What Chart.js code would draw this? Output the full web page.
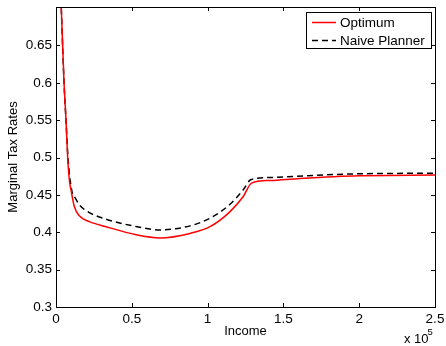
<!DOCTYPE html>
<html>
<head>
<meta charset="utf-8">
<script src="https://cdn.jsdelivr.net/npm/chart.js@4/dist/chart.umd.min.js"></script>
<style>
  html, body { margin: 0; padding: 0; background: #fff; }
  canvas { display: block; }
</style>
</head>
<body>
<canvas id="grafico" width="446" height="346"></canvas>
<script>
// dados
const incomeOptimum = [2800, 5300, 6600, 7700, 8800, 9900, 12100, 15400, 22000, 33000, 52800, 68600, 88400, 101600, 114800, 123500, 129000, 141200, 161000, 200000, 250000];
const rateOptimum   = [0.74, 0.60, 0.55, 0.50, 0.470, 0.4568, 0.4344, 0.422, 0.4143, 0.4075, 0.3968, 0.3925, 0.3985, 0.4075, 0.4277, 0.4478, 0.4658, 0.4693, 0.472, 0.4756, 0.4765];

const incomeNaive = [2800, 5300, 6600, 7900, 10800, 12100, 15400, 22000, 33000, 50600, 68600, 88400, 101600, 114800, 123500, 128400, 141200, 200000, 250000];
const rateNaive   = [0.74, 0.60, 0.55, 0.50, 0.452, 0.4478, 0.4367, 0.4264, 0.4175, 0.4086, 0.4032, 0.4086, 0.4189, 0.4375, 0.4568, 0.4702, 0.4733, 0.4783, 0.479];

const xTickValues = [0, 50000, 100000, 150000, 200000, 250000];
const yTickValues = [0.3, 0.35, 0.4, 0.45, 0.5, 0.55, 0.6, 0.65];

const seriesLabels = ['Optimum', 'Naive Planner'];

const fonte = '"Liberation Sans", Arial, sans-serif';

function toPoints(xs, ys) {
    return xs.map((x, i) => ({ x: x, y: ys[i] }));
}

// moldura, ticks internos, legenda e o "x 10^5"
const estiloMatlab = {
    id: 'estiloMatlab',
    afterDraw(chart) {
        const ctx = chart.ctx;
        const a = chart.chartArea;
        const xs = chart.scales.x;
        const ys = chart.scales.y;
        const tl = 4;

        ctx.save();
        ctx.strokeStyle = '#000';
        ctx.lineWidth = 1;
        ctx.strokeRect(Math.round(a.left) + 0.5, Math.round(a.top) + 0.5,
            Math.round(a.right - a.left), Math.round(a.bottom - a.top));

        ctx.beginPath();
        xs.ticks.forEach(t => {
            const px = Math.round(xs.getPixelForValue(t.value)) + 0.5;
            ctx.moveTo(px, a.bottom);
            ctx.lineTo(px, a.bottom - tl);
            ctx.moveTo(px, a.top);
            ctx.lineTo(px, a.top + tl);
        });
        ys.ticks.forEach(t => {
            const py = Math.round(ys.getPixelForValue(t.value)) + 0.5;
            ctx.moveTo(a.left, py);
            ctx.lineTo(a.left + tl, py);
            ctx.moveTo(a.right, py);
            ctx.lineTo(a.right - tl, py);
        });
        ctx.stroke();

        // legenda dentro do grafico
        const bx = 306.5, by = 12.5, bw = 125, bh = 36;
        ctx.fillStyle = '#fff';
        ctx.fillRect(bx, by, bw, bh);
        ctx.strokeRect(bx, by, bw, bh);
        ctx.font = '13.5px ' + fonte;
        ctx.textBaseline = 'middle';
        ctx.textAlign = 'left';
        chart.data.datasets.forEach((ds, i) => {
            const ly = 22.5 + i * 18;
            ctx.beginPath();
            ctx.strokeStyle = ds.borderColor;
            ctx.lineWidth = ds.borderWidth;
            ctx.setLineDash(ds.borderDash || []);
            ctx.moveTo(312, ly);
            ctx.lineTo(336, ly);
            ctx.stroke();
            ctx.setLineDash([]);
            ctx.fillStyle = '#000';
            ctx.fillText(ds.label, 340, ly + 1);
        });

        // expoente do eixo x
        ctx.fillStyle = '#000';
        ctx.textBaseline = 'alphabetic';
        ctx.font = '13px ' + fonte;
        ctx.fillText('x 10', 404, 343);
        ctx.font = '9.5px ' + fonte;
        ctx.fillText('5', 427.5, 335);
        ctx.restore();
    }
};

const ctx = document.getElementById('grafico').getContext('2d');

new Chart(ctx, {
    type: 'line',
    data: {
        datasets: [
            {
                label: seriesLabels[0],
                data: toPoints(incomeOptimum, rateOptimum),
                borderColor: '#ff0000',
                borderWidth: 1.5,
                pointRadius: 0,
                fill: false,
                cubicInterpolationMode: 'monotone'
            },
            {
                label: seriesLabels[1],
                data: toPoints(incomeNaive, rateNaive),
                borderColor: '#000000',
                borderWidth: 1.5,
                borderDash: [6, 4],
                pointRadius: 0,
                fill: false,
                cubicInterpolationMode: 'monotone'
            }
        ]
    },
    options: {
        responsive: false,
        animation: false,
        layout: { padding: { left: 0, right: 11, top: 7, bottom: 0 } },
        plugins: {
            legend: { display: false },
            tooltip: { enabled: false }
        },
        scales: {
            x: {
                type: 'linear',
                min: 0,
                max: 250000,
                grid: { display: false, drawTicks: false },
                border: { display: false },
                afterBuildTicks: s => { s.ticks = xTickValues.map(v => ({ value: v })); },
                afterFit: s => { s.height = 39; s.paddingLeft = 0; s.paddingRight = 0; },
                ticks: {
                    color: '#000',
                    padding: 4,
                    maxRotation: 0,
                    autoSkip: false,
                    font: { family: fonte, size: 13.5 },
                    callback: v => String(v / 100000)
                },
                title: {
                    display: true,
                    text: 'Income',
                    color: '#000',
                    font: { family: fonte, size: 13 },
                    padding: { top: 0, bottom: 6.5 }
                }
            },
            y: {
                min: 0.3,
                max: 0.7015,
                grid: { display: false, drawTicks: false },
                border: { display: false },
                afterBuildTicks: s => { s.ticks = yTickValues.map(v => ({ value: v })); },
                afterFit: s => { s.width = 56; s.paddingTop = 0; s.paddingBottom = 0; },
                ticks: {
                    color: '#000',
                    padding: 4,
                    autoSkip: false,
                    font: { family: fonte, size: 13.5 },
                    callback: v => String(Math.round(v * 100) / 100)
                },
                title: {
                    display: true,
                    text: 'Marginal Tax Rates',
                    color: '#000',
                    font: { family: fonte, size: 13 },
                    padding: { top: 6, bottom: 0 }
                }
            }
        }
    },
    plugins: [estiloMatlab]
});
</script>
</body>
</html>
